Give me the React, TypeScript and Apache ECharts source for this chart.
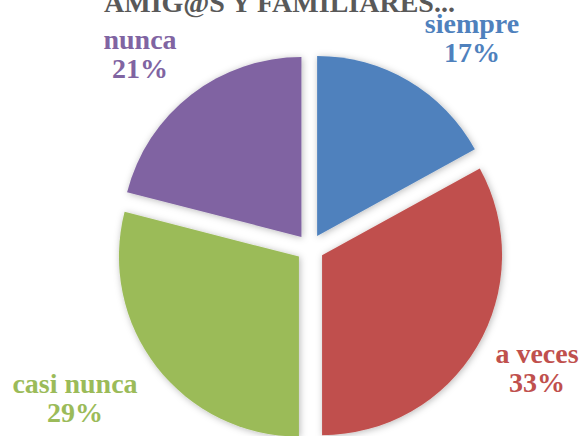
import React, { useEffect, useRef } from "react";
import * as echarts from "echarts";

const categories = ["siempre", "a veces", "casi nunca", "nunca"];
const values = [17, 33, 29, 21];
const colors = ["#4F81BD", "#C0504D", "#9BBB59", "#8064A2"];
const titleText = "AMIG@S Y FAMILIARES...";
// label centre positions (Excel "best fit" placement)
const labelCenters: [number, number][] = [
  [472, 38],
  [537, 368],
  [75, 398],
  [140, 54],
];

const FONT = "Liberation Serif";

export default function App() {
  const ref = useRef<HTMLDivElement>(null);
  useEffect(() => {
    document.body.style.margin = "0";
    const chart = echarts.init(ref.current!, undefined, { renderer: "svg" });
    const total = values.reduce((a, b) => a + b, 0);
    chart.setOption({
      animation: false,
      backgroundColor: "#ffffff",
      title: {
        text: titleText,
        left: 99,
        top: -18,
        textStyle: {
          fontFamily: FONT,
          fontWeight: "bold",
          fontSize: 28,
          lineHeight: 30,
          color: "#595959",
        },
      },
      graphic: categories.map((c, i) => ({
        type: "text",
        x: labelCenters[i][0],
        y: labelCenters[i][1],
        z: 100,
        style: {
          text: `${c}\n${Math.round((values[i] / total) * 100)}%`,
          fontFamily: FONT,
          fontWeight: "bold",
          fontSize: 28,
          lineHeight: 29,
          fill: colors[i],
          align: "center",
          verticalAlign: "middle",
          textAlign: "center",
          textVerticalAlign: "middle",
        },
      })),
      series: [
        {
          type: "pie",
          center: [310, 248],
          radius: 180,
          startAngle: 90,
          clockwise: true,
          selectedMode: "multiple",
          selectedOffset: 14,
          data: categories.map((c, i) => ({
            name: c,
            value: values[i],
            selected: true,
            itemStyle: { color: colors[i] },
          })),
          itemStyle: {
            borderWidth: 0,
            shadowBlur: 7,
            shadowColor: "rgba(0,0,0,0.28)",
            shadowOffsetX: 1,
            shadowOffsetY: 1,
          },
          label: { show: false },
          labelLine: { show: false },
          emphasis: { disabled: true },
        },
      ],
    });
    return () => chart.dispose();
  }, []);
  return (
    <div
      ref={ref}
      style={{ position: "absolute", left: 0, top: 0, width: 585, height: 436 }}
    />
  );
}
